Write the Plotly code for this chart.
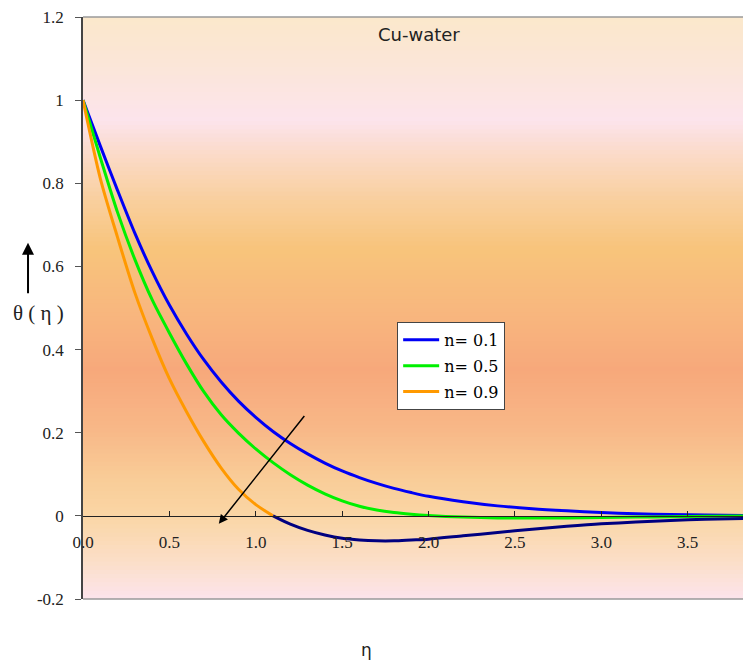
import plotly.graph_objects as go

# ---- data ----
eta = [0.0, 0.1, 0.2, 0.3, 0.4, 0.5, 0.6, 0.7, 0.8, 0.9, 1.0, 1.1, 1.2, 1.3, 1.4, 1.5, 1.6, 1.7,
       1.8, 1.9, 2.0, 2.2, 2.4, 2.6, 2.8, 3.0, 3.2, 3.4, 3.6, 3.83]
theta_n01 = [1.0, 0.89, 0.783, 0.68, 0.588, 0.507, 0.437, 0.375, 0.322, 0.276, 0.237, 0.203, 0.174,
             0.149, 0.127, 0.108, 0.092, 0.078, 0.066, 0.056, 0.047, 0.034, 0.024, 0.017, 0.012,
             0.008, 0.005, 0.003, 0.002, 0.001]
theta_n05 = [1.0, 0.862, 0.73, 0.617, 0.52, 0.44, 0.365, 0.298, 0.243, 0.199, 0.161, 0.128, 0.099,
             0.074, 0.053, 0.036, 0.023, 0.014, 0.008, 0.004, 0.001, -0.003, -0.005, -0.005, -0.005,
             -0.004, -0.003, -0.002, -0.001, 0.0]
theta_n09 = [1.0, 0.812, 0.67, 0.537, 0.427, 0.33, 0.25, 0.178, 0.115, 0.064, 0.027, 0.0, -0.02,
             -0.035, -0.046, -0.054, -0.058, -0.06, -0.06, -0.058, -0.056, -0.048, -0.04, -0.032,
             -0.025, -0.019, -0.015, -0.011, -0.008, -0.006]
series_names = ["n= 0.1", "n= 0.5", "n= 0.9"]
series_colors = ["#0000F5", "#00F000", "#FF9900"]
negative_color = "#000080"

xtick_vals = [0.0, 0.5, 1.0, 1.5, 2.0, 2.5, 3.0, 3.5]
xtick_text = ["0.0", "0.5", "1.0", "1.5", "2.0", "2.5", "3.0", "3.5"]
ytick_vals = [-0.2, 0.0, 0.2, 0.4, 0.6, 0.8, 1.0, 1.2]
ytick_text = ["-0.2", "0", "0.2", "0.4", "0.6", "0.8", "1", "1.2"]

X_MAX = 3.82
Y_MIN, Y_MAX = -0.2, 1.2

fig = go.Figure()

# background gradient (paper-space stripes over the plot area)
stops = [
    (1.000, (251, 232, 203)),
    (0.930, (251, 230, 214)),
    (0.823, (252, 228, 236)),
    (0.770, (251, 219, 204)),
    (0.686, (249, 207, 158)),
    (0.600, (248, 196, 123)),
    (0.497, (248, 183, 126)),
    (0.393, (247, 168, 123)),
    (0.290, (248, 184, 136)),
    (0.204, (249, 205, 152)),
    (0.143, (250, 214, 165)),
    (0.068, (251, 222, 198)),
    (0.000, (252, 228, 236)),
]
stops = sorted(stops)


def col_at(t):
    for (t0, c0), (t1, c1) in zip(stops[:-1], stops[1:]):
        if t0 <= t <= t1:
            f = (t - t0) / (t1 - t0) if t1 > t0 else 0
            return "rgb(%d,%d,%d)" % tuple(round(a + (b - a) * f) for a, b in zip(c0, c1))
    return "rgb(%d,%d,%d)" % stops[-1][1]


shapes = []
N = 140
for i in range(N):
    y0 = i / N
    y1 = (i + 1) / N + 0.002
    shapes.append(dict(type="rect", xref="x domain", yref="y domain", x0=0, x1=1, y0=y0, y1=min(y1, 1),
                       fillcolor=col_at((i + 0.5) / N), line=dict(width=0), layer="below"))
# top and bottom plot borders
shapes.append(dict(type="line", xref="x domain", yref="y domain", x0=0, x1=1, y0=1, y1=1,
                   line=dict(color="#9a9a9a", width=1.5), layer="above"))
shapes.append(dict(type="line", xref="x domain", yref="y domain", x0=0, x1=1, y0=0, y1=0,
                   line=dict(color="#9a9a9a", width=1.5), layer="above"))

# series
for ys, name, c in zip([theta_n01, theta_n05], series_names[:2], series_colors[:2]):
    fig.add_trace(go.Scatter(x=eta, y=ys, mode="lines", name=name,
                             line=dict(color=c, width=3, shape="spline", smoothing=0.8),
                             legendgroup=name))

# n = 0.9 : positive part orange, negative part dark navy
k = next(i for i, v in enumerate(theta_n09) if v <= 0)
fig.add_trace(go.Scatter(x=eta[:k + 1], y=theta_n09[:k + 1], mode="lines", name=series_names[2],
                         line=dict(color=series_colors[2], width=3, shape="spline", smoothing=0.8),
                         legendgroup=series_names[2]))
fig.add_trace(go.Scatter(x=eta[k:], y=theta_n09[k:], mode="lines", showlegend=False,
                         line=dict(color=negative_color, width=3, shape="spline", smoothing=0.8),
                         legendgroup=series_names[2]))

serif = "Liberation Serif, Times New Roman, serif"

fig.update_layout(
    width=743, height=660,
    margin=dict(l=83, r=0, t=17, b=61),
    paper_bgcolor="white",
    plot_bgcolor="rgba(0,0,0,0)",
    showlegend=True,
    legend=dict(x=0.476, y=0.476, xanchor="left", yanchor="top",
                bgcolor="white", bordercolor="#444", borderwidth=1,
                font=dict(family="DejaVu Serif, serif", size=16, color="black"),
                tracegroupgap=2, itemwidth=36),
    xaxis=dict(range=[0, X_MAX], anchor="free", position=(0 - Y_MIN) / (Y_MAX - Y_MIN),
               showline=True, linecolor="#222", linewidth=1,
               ticks="inside", ticklen=5, tickcolor="#222",
               tickvals=xtick_vals, ticktext=xtick_text, ticklabelstandoff=11,
               tickfont=dict(family=serif, size=17, color="#222"),
               showgrid=False, zeroline=False),
    yaxis=dict(range=[Y_MIN, Y_MAX], showline=True, linecolor="#444", linewidth=1.5,
               ticks="outside", ticklen=6, tickcolor="#555",
               tickvals=ytick_vals, ticktext=ytick_text, ticklabelstandoff=8,
               tickfont=dict(family=serif, size=17, color="#222"),
               showgrid=False, zeroline=False),
    shapes=shapes,
    annotations=[
        dict(text="Cu-water", xref="paper", yref="paper", x=0.509, y=0.970, showarrow=False,
             xanchor="center", yanchor="middle",
             font=dict(family="DejaVu Sans, sans-serif", size=18, color="#222")),
        dict(text="θ ( η )", xref="paper", yref="paper", x=-0.068, y=0.491, showarrow=False,
             xanchor="center", yanchor="middle",
             font=dict(family=serif, size=21, color="#222")),
        dict(text="", xref="paper", yref="paper", x=-0.0833, y=0.612, ax=0, ay=52,
             showarrow=True, arrowhead=2, arrowsize=1.2, arrowwidth=2, arrowcolor="black"),
        dict(text="η", xref="paper", yref="paper", x=0.430, y=-0.0876, showarrow=False,
             xanchor="center", yanchor="middle",
             font=dict(family="DejaVu Sans, sans-serif", size=17, color="#222")),
        dict(text="", x=0.786, y=-0.019, xref="x", yref="y", axref="x", ayref="y",
             ax=1.288, ay=0.244, showarrow=True, arrowhead=2, arrowsize=1.2, arrowwidth=1.5,
             arrowcolor="black"),
    ],
)

fig.write_html("out.html")
